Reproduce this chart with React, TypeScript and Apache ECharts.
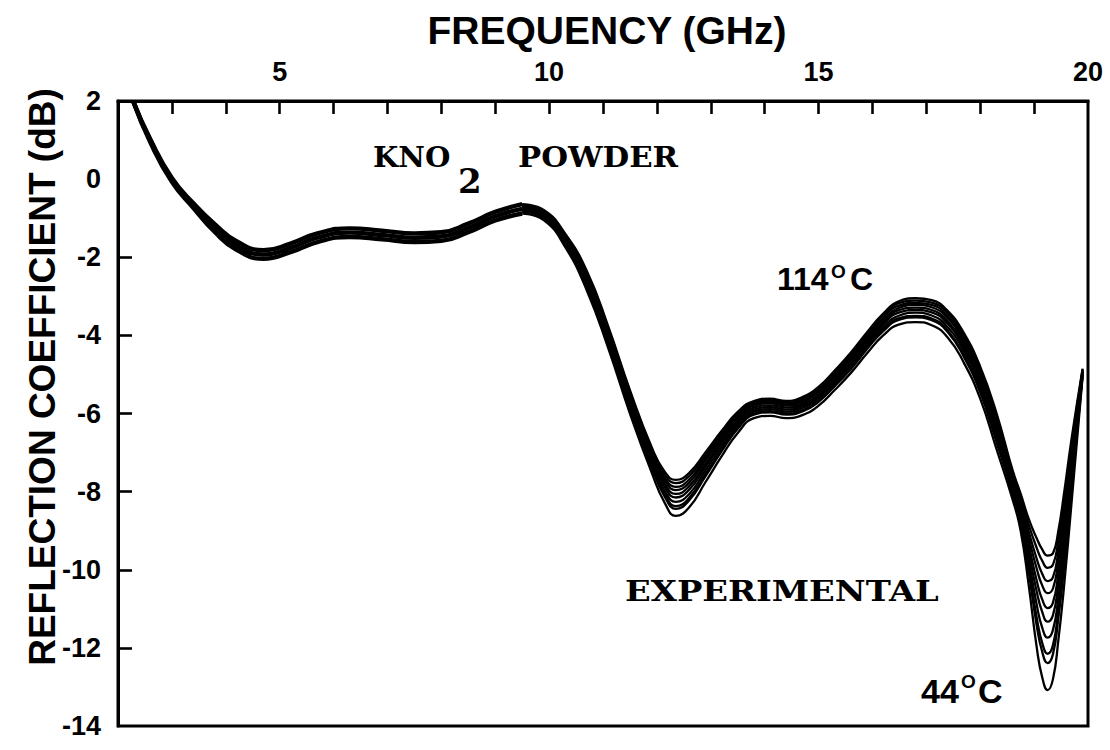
import React, { useEffect, useRef } from "react";
import * as echarts from "echarts";

// Frequency (GHz) of the common low-frequency part, where the curves overlap
const HEAD_FREQ = [2.28, 2.6, 3.0, 3.4, 3.8, 4.2, 4.7, 5.2, 5.7, 6.3, 6.9, 7.5, 8.0, 8.5, 9.0, 9.5];
const HEAD_TOP = [2.0, 1.02, 0.03, -0.62, -1.16, -1.59, -1.82, -1.65, -1.39, -1.26, -1.32, -1.39, -1.36, -1.14, -0.84, -0.64];
const HEAD_MID = [2.0, 0.98, -0.02, -0.68, -1.26, -1.7, -1.93, -1.76, -1.5, -1.37, -1.43, -1.5, -1.47, -1.25, -0.95, -0.76];
const HEAD_BOT = [2.0, 0.94, -0.07, -0.74, -1.36, -1.81, -2.04, -1.87, -1.61, -1.48, -1.54, -1.61, -1.58, -1.36, -1.06, -0.88];

// Frequencies of the part where the temperature curves separate
const TAIL_FREQ = [9.5, 9.9, 10.3, 10.7, 11.1, 11.5, 11.9, 12.15, 12.35, 12.6, 12.9, 13.2, 13.5, 13.8, 14.1, 14.4, 14.7, 15.0, 15.3, 15.6, 15.9, 16.2, 16.5, 16.8, 17.1, 17.4, 17.7, 18.0, 18.3, 18.6, 18.75, 18.9, 19.05, 19.15, 19.25, 19.35, 19.45, 19.55, 19.7, 19.9];

const C114 = [-0.64, -0.79, -1.4, -2.35, -3.78, -5.4, -6.85, -7.5, -7.7, -7.52, -7.0, -6.45, -5.96, -5.68, -5.62, -5.68, -5.58, -5.32, -4.9, -4.44, -3.92, -3.44, -3.12, -3.05, -3.1, -3.38, -3.95, -4.8, -5.98, -7.45, -8.05, -8.7, -9.2, -9.48, -9.64, -9.58, -9.0, -8.1, -6.6, -4.85];
const C106 = [-0.66, -0.81, -1.43, -2.4, -3.83, -5.45, -6.91, -7.57, -7.78, -7.6, -7.07, -6.51, -6.01, -5.72, -5.66, -5.72, -5.62, -5.36, -4.95, -4.49, -3.97, -3.49, -3.17, -3.11, -3.16, -3.44, -4.02, -4.87, -6.06, -7.52, -8.14, -8.85, -9.45, -9.77, -9.95, -9.87, -9.25, -8.32, -6.74, -4.87];
const C98 = [-0.69, -0.84, -1.47, -2.45, -3.89, -5.51, -6.97, -7.65, -7.88, -7.69, -7.14, -6.57, -6.06, -5.76, -5.7, -5.76, -5.67, -5.41, -5.0, -4.54, -4.02, -3.55, -3.23, -3.17, -3.22, -3.51, -4.09, -4.96, -6.16, -7.59, -8.23, -9.02, -9.73, -10.1, -10.29, -10.19, -9.53, -8.56, -6.9, -4.89];
const C90 = [-0.71, -0.86, -1.5, -2.49, -3.94, -5.57, -7.03, -7.72, -7.96, -7.77, -7.21, -6.63, -6.11, -5.8, -5.74, -5.8, -5.71, -5.45, -5.04, -4.59, -4.07, -3.6, -3.29, -3.22, -3.28, -3.57, -4.16, -5.03, -6.24, -7.66, -8.32, -9.18, -9.98, -10.4, -10.6, -10.48, -9.78, -8.77, -7.05, -4.91];
const C83 = [-0.73, -0.89, -1.53, -2.55, -4.0, -5.63, -7.1, -7.81, -8.06, -7.86, -7.3, -6.7, -6.17, -5.85, -5.79, -5.85, -5.76, -5.51, -5.1, -4.64, -4.13, -3.66, -3.35, -3.29, -3.35, -3.65, -4.25, -5.12, -6.34, -7.74, -8.42, -9.36, -10.29, -10.76, -10.98, -10.84, -10.09, -9.04, -7.22, -4.93];
const C75 = [-0.76, -0.92, -1.57, -2.6, -4.05, -5.69, -7.17, -7.89, -8.15, -7.95, -7.37, -6.77, -6.23, -5.9, -5.84, -5.9, -5.81, -5.56, -5.15, -4.7, -4.19, -3.71, -3.41, -3.35, -3.41, -3.71, -4.32, -5.2, -6.43, -7.82, -8.52, -9.53, -10.57, -11.08, -11.33, -11.16, -10.37, -9.28, -7.38, -4.95];
const C67 = [-0.79, -0.95, -1.61, -2.66, -4.12, -5.77, -7.25, -7.99, -8.26, -8.06, -7.46, -6.85, -6.29, -5.95, -5.89, -5.95, -5.86, -5.61, -5.21, -4.76, -4.25, -3.78, -3.49, -3.42, -3.49, -3.8, -4.41, -5.3, -6.54, -7.91, -8.63, -9.74, -10.91, -11.48, -11.74, -11.54, -10.71, -9.56, -7.58, -4.97];
const C59 = [-0.82, -0.98, -1.65, -2.72, -4.19, -5.84, -7.33, -8.08, -8.37, -8.16, -7.55, -6.93, -6.35, -6.0, -5.94, -6.0, -5.92, -5.67, -5.27, -4.82, -4.31, -3.85, -3.56, -3.5, -3.57, -3.88, -4.51, -5.4, -6.65, -8.0, -8.74, -9.94, -11.24, -11.87, -12.15, -11.93, -11.04, -9.85, -7.77, -4.99];
const C52 = [-0.83, -1.0, -1.67, -2.75, -4.23, -5.88, -7.37, -8.14, -8.44, -8.22, -7.61, -6.97, -6.39, -6.03, -5.97, -6.03, -5.95, -5.7, -5.3, -4.86, -4.35, -3.89, -3.6, -3.54, -3.61, -3.92, -4.56, -5.46, -6.72, -8.05, -8.81, -10.06, -11.44, -12.1, -12.39, -12.16, -11.24, -10.02, -7.88, -5.01];
const C44 = [-0.88, -1.05, -1.74, -2.85, -4.34, -6.0, -7.5, -8.3, -8.62, -8.4, -7.76, -7.1, -6.5, -6.12, -6.06, -6.12, -6.04, -5.8, -5.4, -4.96, -4.46, -4.0, -3.72, -3.66, -3.74, -4.06, -4.71, -5.62, -6.9, -8.2, -9.0, -10.4, -12.0, -12.75, -13.08, -12.8, -11.8, -10.5, -8.2, -5.05];

const TAIL_NAMES = ["114°C", "106°C", "98°C", "90°C", "83°C", "75°C", "67°C", "59°C", "52°C", "44°C"];
const TAIL_VALUES = [C114, C106, C98, C90, C83, C75, C67, C59, C52, C44];

const X_TICKS = [3, 4, 5, 6, 7, 8, 9, 10, 11, 12, 13, 14, 15, 16, 17, 18, 19];
const X_LABELS = [5, 10, 15, 20];
const Y_TICKS = [-12, -10, -8, -6, -4, -2];
const Y_LABELS = [2, 0, -2, -4, -6, -8, -10, -12, -14];

const zip = (xs: number[], ys: number[]) => xs.map((x, i) => [x, ys[i]]);

export default function App() {
  const ref = useRef<HTMLDivElement>(null);
  useEffect(() => {
    if (!ref.current) return;
    document.body.style.margin = "0";
    const chart = echarts.init(ref.current, null, { renderer: "svg" });
    const sans = "Liberation Sans";
    const slab = "DejaVu Serif";
    const headSeries = [HEAD_TOP, HEAD_MID, HEAD_BOT].map((ys, i) => ({
      type: "line",
      name: "head" + i,
      data: zip(HEAD_FREQ, ys),
      showSymbol: false,
      smooth: 0.5,
      lineStyle: { color: "#000", width: 4.4 },
      silent: true,
    }));
    const tailSeries = TAIL_VALUES.map((ys, i) => ({
      type: "line",
      name: TAIL_NAMES[i],
      data: zip(TAIL_FREQ, ys),
      showSymbol: false,
      smooth: 0.5,
      lineStyle: { color: "#000", width: 2.3 },
      silent: true,
    }));
    const txt = (text: string, x: number, y: number, family: string, size: number, scaleX = 1) => ({
      type: "text",
      x,
      y,
      scaleX,
      style: {
        text,
        fontFamily: family,
        fontWeight: "bold",
        fontSize: size,
        fill: "#000",
        align: "left",
        verticalAlign: "middle",
      },
    });
    chart.setOption({
      animation: false,
      backgroundColor: "#fff",
      grid: {
        left: 118,
        right: 22,
        top: 101,
        bottom: 24,
        show: true,
        borderColor: "#000",
        borderWidth: 3,
        backgroundColor: "transparent",
      },
      xAxis: {
        type: "value",
        position: "top",
        min: 2,
        max: 20,
        axisLine: { show: true, onZero: false, lineStyle: { color: "#000", width: 3 } },
        axisTick: {
          show: true,
          inside: true,
          length: 13,
          customValues: X_TICKS,
          lineStyle: { color: "#000", width: 2.6 },
        },
        axisLabel: {
          show: true,
          customValues: X_LABELS,
          margin: 16,
          color: "#000",
          fontFamily: sans,
          fontWeight: "bold",
          fontSize: 27,
        },
        splitLine: { show: false },
      },
      yAxis: {
        type: "value",
        min: -14,
        max: 2,
        axisLine: { show: true, onZero: false, lineStyle: { color: "#000", width: 3 } },
        axisTick: {
          show: true,
          inside: true,
          length: 14,
          customValues: Y_TICKS,
          lineStyle: { color: "#000", width: 2.6 },
        },
        axisLabel: {
          show: true,
          customValues: Y_LABELS,
          margin: 17,
          color: "#000",
          fontFamily: sans,
          fontWeight: "bold",
          fontSize: 27,
        },
        splitLine: { show: false },
      },
      series: [...headSeries, ...tailSeries],
      graphic: [
        {
          type: "text",
          x: 607,
          y: 30,
          style: {
            text: "FREQUENCY (GHz)",
            fontFamily: sans,
            fontWeight: "bold",
            fontSize: 39,
            fill: "#000",
            align: "center",
            verticalAlign: "middle",
          },
        },
        {
          type: "text",
          x: 42,
          y: 377,
          rotation: Math.PI / 2,
          style: {
            text: "REFLECTION COEFFICIENT (dB)",
            fontFamily: sans,
            fontWeight: "bold",
            fontSize: 37,
            fill: "#000",
            align: "center",
            verticalAlign: "middle",
          },
        },
        txt("KNO", 373, 158, slab, 27, 1.08),
        txt("2", 458, 181, slab, 34),
        txt("POWDER", 518, 158, slab, 27, 1.14),
        txt("EXPERIMENTAL", 625, 591, slab, 27, 1.25),
        txt("114", 777, 279, sans, 32),
        txt("O", 831, 271, sans, 19),
        txt("C", 850, 279, sans, 32),
        txt("44", 921, 691, sans, 34),
        txt("O", 961, 681, sans, 19),
        txt("C", 978, 691, sans, 34),
      ],
    });
    return () => chart.dispose();
  }, []);
  return <div ref={ref} style={{ width: 1110, height: 750 }} />;
}
